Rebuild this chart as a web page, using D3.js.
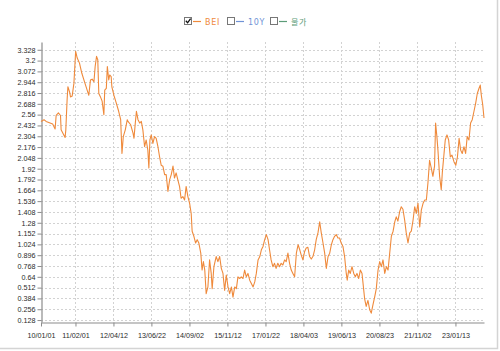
<!DOCTYPE html>
<html>
<head>
<meta charset="utf-8">
<script src="https://cdn.jsdelivr.net/npm/d3@7"></script>
<style>
    body { margin: 0; background: #fff; }
    svg { display: block; font-family: "DejaVu Sans", Verdana, sans-serif; }
    .axis text { fill: #2a2a2a; font-size: 7.2px; }
    .axis path, .axis line { stroke: #8c8c8c; }
    .grid line { stroke: #d2d2d2; stroke-dasharray: 2,2; }
</style>
</head>
<body>
<div id="chart"></div>
<script>

// legend entries (only BEI is switched on)
const legendNames = ["BEI", "10Y", "물가"];
const legendColors = ["#ef8a3c", "#6f93d6", "#5c9c78"];
const legendChecked = [true, false, false];

// axis ticks
const xTickDates = ["2010-01-01", "2011-02-01", "2012-04-12", "2013-06-22", "2014-09-02", "2015-11-12",
    "2017-01-22", "2018-04-03", "2019-06-13", "2020-08-23", "2021-11-02", "2023-01-13"];
const yTicks = [0.128, 0.256, 0.384, 0.512, 0.64, 0.768, 0.896, 1.024, 1.152, 1.28, 1.408, 1.536, 1.664,
    1.792, 1.92, 2.048, 2.176, 2.304, 2.432, 2.56, 2.688, 2.816, 2.944, 3.072, 3.2, 3.328];

// BEI series
const beiSeries = [
    ["2010-01-01", 2.48], ["2010-02-05", 2.50], ["2010-03-01", 2.48], ["2010-05-15", 2.45], ["2010-06-12", 2.39],
    ["2010-06-24", 2.55], ["2010-07-20", 2.58], ["2010-08-13", 2.55], ["2010-08-20", 2.38], ["2010-09-20", 2.32],
    ["2010-10-05", 2.29], ["2010-10-13", 2.38], ["2010-10-28", 2.74], ["2010-11-06", 2.89], ["2010-11-25", 2.83],
    ["2010-12-06", 2.77], ["2010-12-25", 2.78], ["2011-01-14", 2.93], ["2011-02-03", 3.31], ["2011-02-21", 3.23],
    ["2011-03-19", 3.17], ["2011-04-15", 3.05], ["2011-05-15", 2.95], ["2011-06-15", 2.85], ["2011-07-04", 2.79],
    ["2011-07-23", 2.97], ["2011-08-11", 2.98], ["2011-09-01", 2.95], ["2011-09-15", 3.13], ["2011-10-01", 3.25],
    ["2011-10-15", 3.21], ["2011-10-27", 2.81], ["2011-11-15", 2.77], ["2011-12-04", 2.72], ["2011-12-24", 2.56],
    ["2012-01-03", 2.85], ["2012-01-21", 2.87], ["2012-02-02", 3.13], ["2012-02-18", 2.97], ["2012-02-29", 3.03],
    ["2012-03-17", 3.01], ["2012-03-25", 2.89], ["2012-04-17", 2.79], ["2012-05-14", 2.70], ["2012-06-11", 2.60],
    ["2012-07-04", 2.50], ["2012-07-19", 2.10], ["2012-08-03", 2.30], ["2012-08-26", 2.38], ["2012-09-18", 2.50],
    ["2012-09-26", 2.48], ["2012-10-27", 2.44], ["2012-11-23", 2.34], ["2012-12-04", 2.28], ["2012-12-19", 2.46],
    ["2013-01-01", 2.60], ["2013-01-19", 2.50], ["2013-02-08", 2.46], ["2013-02-26", 2.48], ["2013-03-16", 2.38],
    ["2013-04-05", 2.18], ["2013-04-23", 2.26], ["2013-05-12", 2.14], ["2013-05-24", 1.93], ["2013-06-05", 2.26],
    ["2013-06-20", 2.32], ["2013-07-09", 2.22], ["2013-07-28", 2.30], ["2013-08-16", 2.28], ["2013-09-05", 2.18],
    ["2013-09-24", 2.06], ["2013-10-13", 1.96], ["2013-11-01", 1.95], ["2013-11-21", 1.85], ["2013-12-09", 1.85],
    ["2013-12-29", 1.65], ["2014-01-18", 1.79], ["2014-02-05", 1.85], ["2014-02-25", 1.95], ["2014-03-14", 1.81],
    ["2014-04-02", 1.87], ["2014-04-21", 1.79], ["2014-05-11", 1.71], ["2014-05-29", 1.57], ["2014-06-18", 1.59],
    ["2014-07-08", 1.55], ["2014-07-26", 1.71], ["2014-08-15", 1.59], ["2014-09-04", 1.51], ["2014-09-22", 1.39],
    ["2014-10-03", 1.18], ["2014-10-23", 1.12], ["2014-11-12", 1.04], ["2014-11-30", 1.08], ["2014-12-19", 1.04],
    ["2015-01-10", 0.92], ["2015-01-25", 0.72], ["2015-02-09", 0.82], ["2015-02-25", 0.72], ["2015-03-13", 0.44],
    ["2015-04-02", 0.52], ["2015-04-21", 0.84], ["2015-05-10", 0.68], ["2015-05-21", 0.50], ["2015-06-10", 0.76],
    ["2015-07-06", 0.88], ["2015-07-26", 0.82], ["2015-08-15", 0.88], ["2015-09-03", 0.74], ["2015-09-22", 0.68],
    ["2015-10-11", 0.48], ["2015-10-30", 0.66], ["2015-11-19", 0.52], ["2015-12-08", 0.44], ["2015-12-28", 0.52],
    ["2016-01-15", 0.40], ["2016-02-04", 0.52], ["2016-02-23", 0.50], ["2016-03-12", 0.64], ["2016-04-01", 0.62],
    ["2016-04-19", 0.64], ["2016-05-09", 0.62], ["2016-05-28", 0.72], ["2016-06-16", 0.64], ["2016-07-05", 0.68],
    ["2016-07-25", 0.60], ["2016-08-13", 0.56], ["2016-09-02", 0.52], ["2016-09-21", 0.58], ["2016-10-09", 0.68],
    ["2016-10-29", 0.84], ["2016-11-18", 0.88], ["2016-12-06", 0.96], ["2016-12-25", 1.00], ["2017-01-13", 1.08],
    ["2017-02-01", 1.14], ["2017-02-21", 1.08], ["2017-03-10", 0.96], ["2017-03-28", 0.84], ["2017-04-17", 0.76],
    ["2017-05-06", 0.80], ["2017-05-24", 0.74], ["2017-06-13", 0.80], ["2017-07-03", 0.76], ["2017-07-21", 0.80],
    ["2017-08-10", 0.78], ["2017-08-30", 0.84], ["2017-09-17", 0.82], ["2017-10-07", 0.92], ["2017-10-26", 0.80],
    ["2017-11-14", 0.72], ["2017-12-03", 0.68], ["2017-12-23", 0.64], ["2018-01-12", 0.92], ["2018-02-01", 1.02],
    ["2018-02-20", 0.96], ["2018-03-08", 0.90], ["2018-03-28", 0.84], ["2018-04-17", 0.94], ["2018-05-05", 0.98],
    ["2018-05-24", 0.99], ["2018-06-13", 0.88], ["2018-07-02", 0.85], ["2018-07-21", 0.88], ["2018-08-10", 0.96],
    ["2018-08-28", 1.08], ["2018-09-17", 1.16], ["2018-10-07", 1.29], ["2018-10-25", 1.16], ["2018-11-14", 1.04],
    ["2018-12-03", 0.92], ["2018-12-22", 0.74], ["2019-01-11", 0.88], ["2019-01-30", 0.92], ["2019-02-18", 1.02],
    ["2019-03-08", 1.08], ["2019-03-27", 1.12], ["2019-04-15", 1.14], ["2019-05-04", 1.10], ["2019-05-23", 1.10],
    ["2019-06-11", 1.04], ["2019-07-01", 1.00], ["2019-07-20", 0.88], ["2019-08-08", 0.68], ["2019-08-19", 0.60],
    ["2019-09-05", 0.72], ["2019-09-23", 0.68], ["2019-10-13", 0.76], ["2019-11-02", 0.68], ["2019-11-20", 0.64],
    ["2019-12-09", 0.68], ["2019-12-29", 0.62], ["2020-01-17", 0.72], ["2020-02-05", 0.68], ["2020-02-17", 0.56],
    ["2020-03-06", 0.38], ["2020-03-24", 0.29], ["2020-04-13", 0.36], ["2020-05-03", 0.25], ["2020-05-21", 0.21],
    ["2020-06-10", 0.31], ["2020-06-29", 0.40], ["2020-07-18", 0.50], ["2020-08-07", 0.72], ["2020-08-26", 0.82],
    ["2020-09-14", 0.76], ["2020-10-03", 0.84], ["2020-10-23", 0.68], ["2020-11-11", 0.76], ["2020-11-30", 0.72],
    ["2020-12-19", 0.92], ["2021-01-07", 1.12], ["2021-01-27", 1.18], ["2021-02-15", 1.29], ["2021-03-04", 1.35],
    ["2021-03-23", 1.30], ["2021-04-12", 1.41], ["2021-05-01", 1.47], ["2021-05-20", 1.44], ["2021-06-09", 1.31],
    ["2021-06-27", 1.16], ["2021-07-17", 1.04], ["2021-08-06", 1.16], ["2021-08-24", 1.18], ["2021-09-13", 1.31],
    ["2021-10-02", 1.47], ["2021-10-20", 1.39], ["2021-11-09", 1.51], ["2021-11-29", 1.23], ["2021-12-17", 1.43],
    ["2022-01-06", 1.51], ["2022-01-26", 1.55], ["2022-02-13", 1.55], ["2022-03-03", 1.75], ["2022-03-22", 2.02],
    ["2022-04-10", 1.93], ["2022-04-29", 1.83], ["2022-05-18", 1.95], ["2022-05-30", 2.46], ["2022-06-14", 2.30],
    ["2022-06-26", 2.14], ["2022-07-15", 1.83], ["2022-08-03", 1.67], ["2022-08-15", 1.87], ["2022-09-04", 2.10],
    ["2022-09-18", 2.26], ["2022-10-08", 2.32], ["2022-10-27", 2.26], ["2022-11-15", 2.06], ["2022-12-04", 2.08],
    ["2022-12-28", 2.00], ["2023-01-17", 1.96], ["2023-02-05", 2.06], ["2023-02-24", 2.28], ["2023-03-14", 2.14],
    ["2023-04-01", 2.10], ["2023-04-21", 2.18], ["2023-05-10", 2.10], ["2023-05-28", 2.30], ["2023-06-17", 2.26],
    ["2023-07-06", 2.46], ["2023-07-25", 2.50], ["2023-08-14", 2.60], ["2023-09-03", 2.70], ["2023-09-21", 2.81],
    ["2023-10-10", 2.87], ["2023-10-25", 2.91], ["2023-11-06", 2.79], ["2023-11-22", 2.68], ["2023-12-07", 2.52]
];

let parseDate = d3.timeParse("%Y-%m-%d");
let data = beiSeries.map(d => ({date: parseDate(d[0]), value: d[1]}));

let width = 500,
    height = 351;
let plot = {left: 41, right: 484, top: 42, bottom: 322};

let svg = d3.select("#chart").append("svg")
    .attr("width", width)
    .attr("height", height);

// scales
let x = d3.scaleTime()
    .domain([parseDate("2010-01-01"), parseDate("2023-12-07")])
    .range([plot.left, plot.right]);

let y = d3.scaleLinear()
    .domain([0.105, 3.42])
    .range([plot.bottom, plot.top]);

// dashed grid
svg.append("g").attr("class", "grid")
    .selectAll("line").data(yTicks)
    .enter().append("line")
    .attr("x1", plot.left).attr("x2", plot.right)
    .attr("y1", d => Math.round(y(d)) + 0.5).attr("y2", d => Math.round(y(d)) + 0.5);

svg.append("g").attr("class", "grid")
    .selectAll("line").data(xTickDates.slice(1))
    .enter().append("line")
    .attr("x1", d => Math.round(x(parseDate(d))) + 0.5).attr("x2", d => Math.round(x(parseDate(d))) + 0.5)
    .attr("y1", plot.top).attr("y2", plot.bottom);

// axes
let yAxis = d3.axisLeft(y)
    .tickValues(yTicks)
    .tickFormat(d => d)
    .tickSize(4)
    .tickSizeOuter(0)
    .tickPadding(2);

svg.append("g").attr("class", "axis")
    .attr("transform", `translate(${plot.left + 0.5},0)`)
    .call(yAxis);

let xAxis = d3.axisBottom(x)
    .tickValues(xTickDates.map(parseDate))
    .tickFormat(d3.timeFormat("%y/%m/%d"))
    .tickSize(4)
    .tickSizeOuter(0)
    .tickPadding(6);

svg.append("g").attr("class", "axis")
    .attr("transform", `translate(0,${plot.bottom + 0.5})`)
    .call(xAxis);

svg.selectAll(".axis .domain").attr("stroke-width", 1.2);
svg.selectAll(".axis text").attr("font-family", null);

// BEI line
let line = d3.line()
    .x(d => x(d.date))
    .y(d => y(d.value));

svg.append("path")
    .datum(data)
    .attr("fill", "none")
    .attr("stroke", legendColors[0])
    .attr("stroke-width", 1.1)
    .attr("stroke-linejoin", "round")
    .attr("d", line);

// legend
let legendX = [184, 227, 270];
let legend = svg.selectAll(".legend-item")
    .data(legendNames)
    .enter().append("g")
    .attr("class", "legend-item")
    .attr("transform", (d, i) => `translate(${legendX[i]},17)`);

legend.append("rect")
    .attr("x", 0.5).attr("y", 0.5)
    .attr("width", 7).attr("height", 7)
    .attr("fill", "#fff")
    .attr("stroke", "#777");

legend.filter((d, i) => legendChecked[i])
    .append("path")
    .attr("d", "M1.8,3.8 L3.6,5.8 L6.6,1.6")
    .attr("fill", "none")
    .attr("stroke", "#111")
    .attr("stroke-width", 1.3);

legend.append("line")
    .attr("x1", 9).attr("x2", 17)
    .attr("y1", 4.5).attr("y2", 4.5)
    .attr("stroke", (d, i) => legendColors[i])
    .attr("stroke-width", 1.2);

legend.append("text")
    .attr("x", 21).attr("y", 7.8)
    .attr("fill", (d, i) => legendColors[i])
    .style("font-size", "8px")
    .style("letter-spacing", "0.7px")
    .style("font-family", d => /[가-힣]/.test(d) ? "'Noto Sans CJK KR'" : null)
    .text(d => d);

// outer frame, right and bottom edges
svg.append("path")
    .attr("d", `M${width - 2.5},0 V${height - 2.5} H0`)
    .attr("fill", "none")
    .attr("stroke", "#d4d4d4")
    .attr("stroke-width", 1.5);

</script>
</body>
</html>
